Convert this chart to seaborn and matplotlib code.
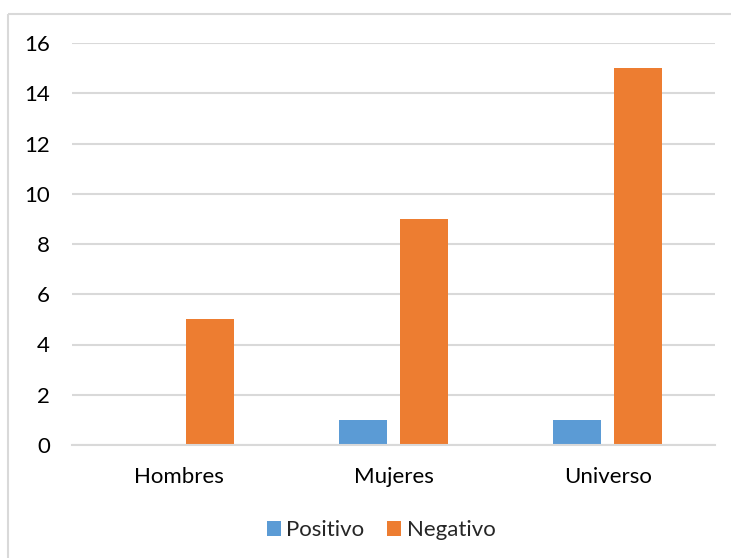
import pandas as pd
import seaborn as sns
import matplotlib.pyplot as plt
from matplotlib.lines import Line2D

# Data
categorias = ['Hombres', 'Mujeres', 'Universo']
positivo = [0, 1, 1]
negativo = [5, 9, 15]
series = ['Positivo', 'Negativo']
colores = ['#5B9BD5', '#ED7D31']

df = pd.DataFrame({'categoria': categorias * 2,
                   'serie': [series[0]] * 3 + [series[1]] * 3,
                   'valor': positivo + negativo})

sns.set_style('white')
plt.rcParams['font.family'] = ['Lato', 'DejaVu Sans']

fig = plt.figure(figsize=(7.31, 5.58), dpi=100)
ax = fig.add_axes([72/731, 1-445/558, (715-72)/731, (445-43)/558])

sns.barplot(data=df, x='categoria', y='valor', hue='serie',
            palette=colores, width=0.57, gap=0.214, ax=ax,
            saturation=1, linewidth=0, legend=True)

ax.set_xlim(-0.5, 2.5)
ax.set_ylim(0, 16)
ax.set_yticks(range(0, 17, 2))
ax.set_xlabel('')
ax.set_ylabel('')
ax.yaxis.grid(True, color='#D9D9D9', linewidth=1.5)
ax.set_axisbelow(True)
for s in ['top', 'right', 'left']:
    ax.spines[s].set_visible(False)
ax.spines['bottom'].set_color('#D9D9D9')
ax.spines['bottom'].set_linewidth(1.5)
ax.tick_params(axis='both', length=0, labelsize=16, colors='black')
ax.tick_params(axis='y', pad=16)
ax.tick_params(axis='x', pad=16)

leg = ax.legend(loc='center', bbox_to_anchor=(381/731, 1-530/558),
                bbox_transform=fig.transFigure, ncol=2, frameon=False,
                fontsize=16, handlelength=0.64, handleheight=0.64,
                handletextpad=0.25, columnspacing=1.0)

# chart area border (only top and left visible in the crop)
brd = dict(color='#D9D9D9', linewidth=1.5, transform=fig.transFigure,
           solid_capstyle='butt')
fig.lines.append(Line2D([8/731, 1.0], [1-14/558, 1-14/558], **brd))
fig.lines.append(Line2D([8/731, 8/731], [0.0, 1-14/558], **brd))

fig.savefig('out.png', dpi=100)
